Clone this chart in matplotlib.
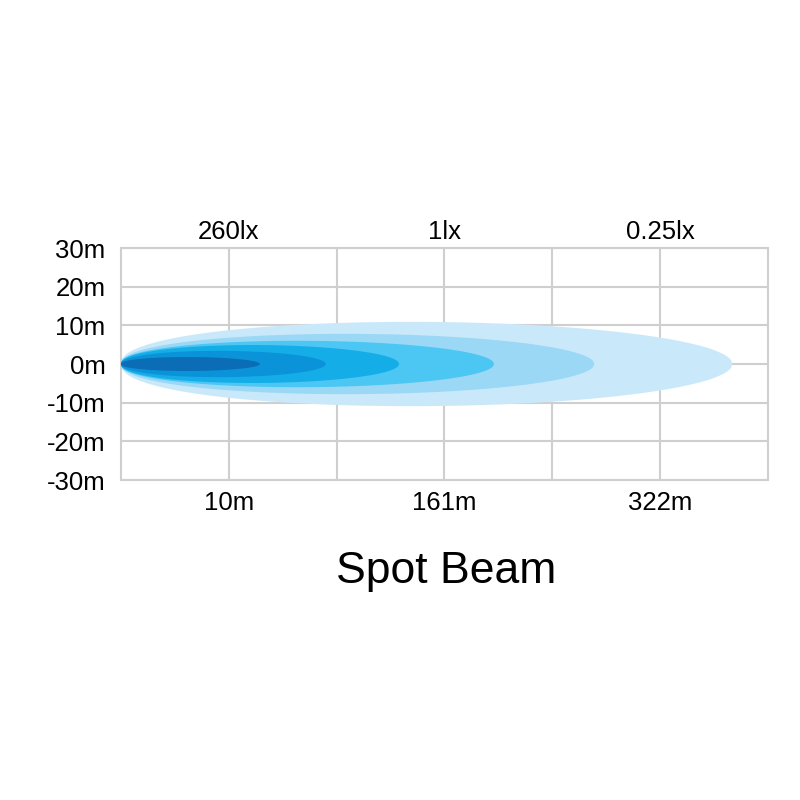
import numpy as np
import matplotlib.pyplot as plt

plt.rcParams['font.family'] = ['Liberation Sans', 'DejaVu Sans']

# grid columns (distance) and labels
x_ticks = [1, 3, 5]
x_labels = ["10m", "161m", "322m"]
lux_labels = ["260lx", "1lx", "0.25lx"]
y_ticks = [30, 20, 10, 0, -10, -20, -30]
y_labels = ["30m", "20m", "10m", "0m", "-10m", "-20m", "-30m"]

# beam layers, outer to inner: reach (grid columns), half width (m), colour
beam_reach = [5.67, 4.39, 3.46, 2.58, 1.90, 1.29]
beam_half = [10.9, 7.8, 6.0, 4.9, 3.4, 1.8]
beam_colors = ["#c9e9fa", "#9bd8f6", "#4cc6f3", "#14ade8", "#0a93d8", "#0a6db5"]

fig = plt.figure(figsize=(8, 8), dpi=100)
ax = fig.add_axes([0.151, 0.4, 0.809, 0.29])

# teardrop outline for each beam
t = np.linspace(0, 1, 400)
g = t ** 0.45 * (1 - t) ** 0.5
g = g / g.max()
for L, H, c in zip(beam_reach, beam_half, beam_colors):
    xs = np.concatenate([t * L, (t * L)[::-1]])
    ys = np.concatenate([H * g, -H * g[::-1]])
    ax.fill(xs, ys, color=c, lw=0, zorder=3)

ax.set_xlim(0, 6)
ax.set_ylim(-30, 30)
ax.set_xticks(x_ticks, labels=x_labels)
ax.set_xticks([2, 4], minor=True)
ax.set_yticks(y_ticks, labels=y_labels)
ax.grid(True, which="both", color="#cfcfcf", lw=1.5, zorder=0)
ax.set_axisbelow(True)
for s in ax.spines.values():
    s.set_color("#cfcfcf")
    s.set_linewidth(1.5)

ax.tick_params(axis="x", which="both", length=0, labelsize=18.5, pad=8)
ax.tick_params(axis="y", length=0, labelsize=18.5, pad=11)

top = ax.secondary_xaxis("top")
top.set_xticks(x_ticks, labels=lux_labels)
top.tick_params(length=0, labelsize=18.5, pad=3)
for s in top.spines.values():
    s.set_visible(False)

fig.text(0.5575, 0.285, "Spot Beam", ha="center", va="center", fontsize=32)

fig.savefig("out.png")
